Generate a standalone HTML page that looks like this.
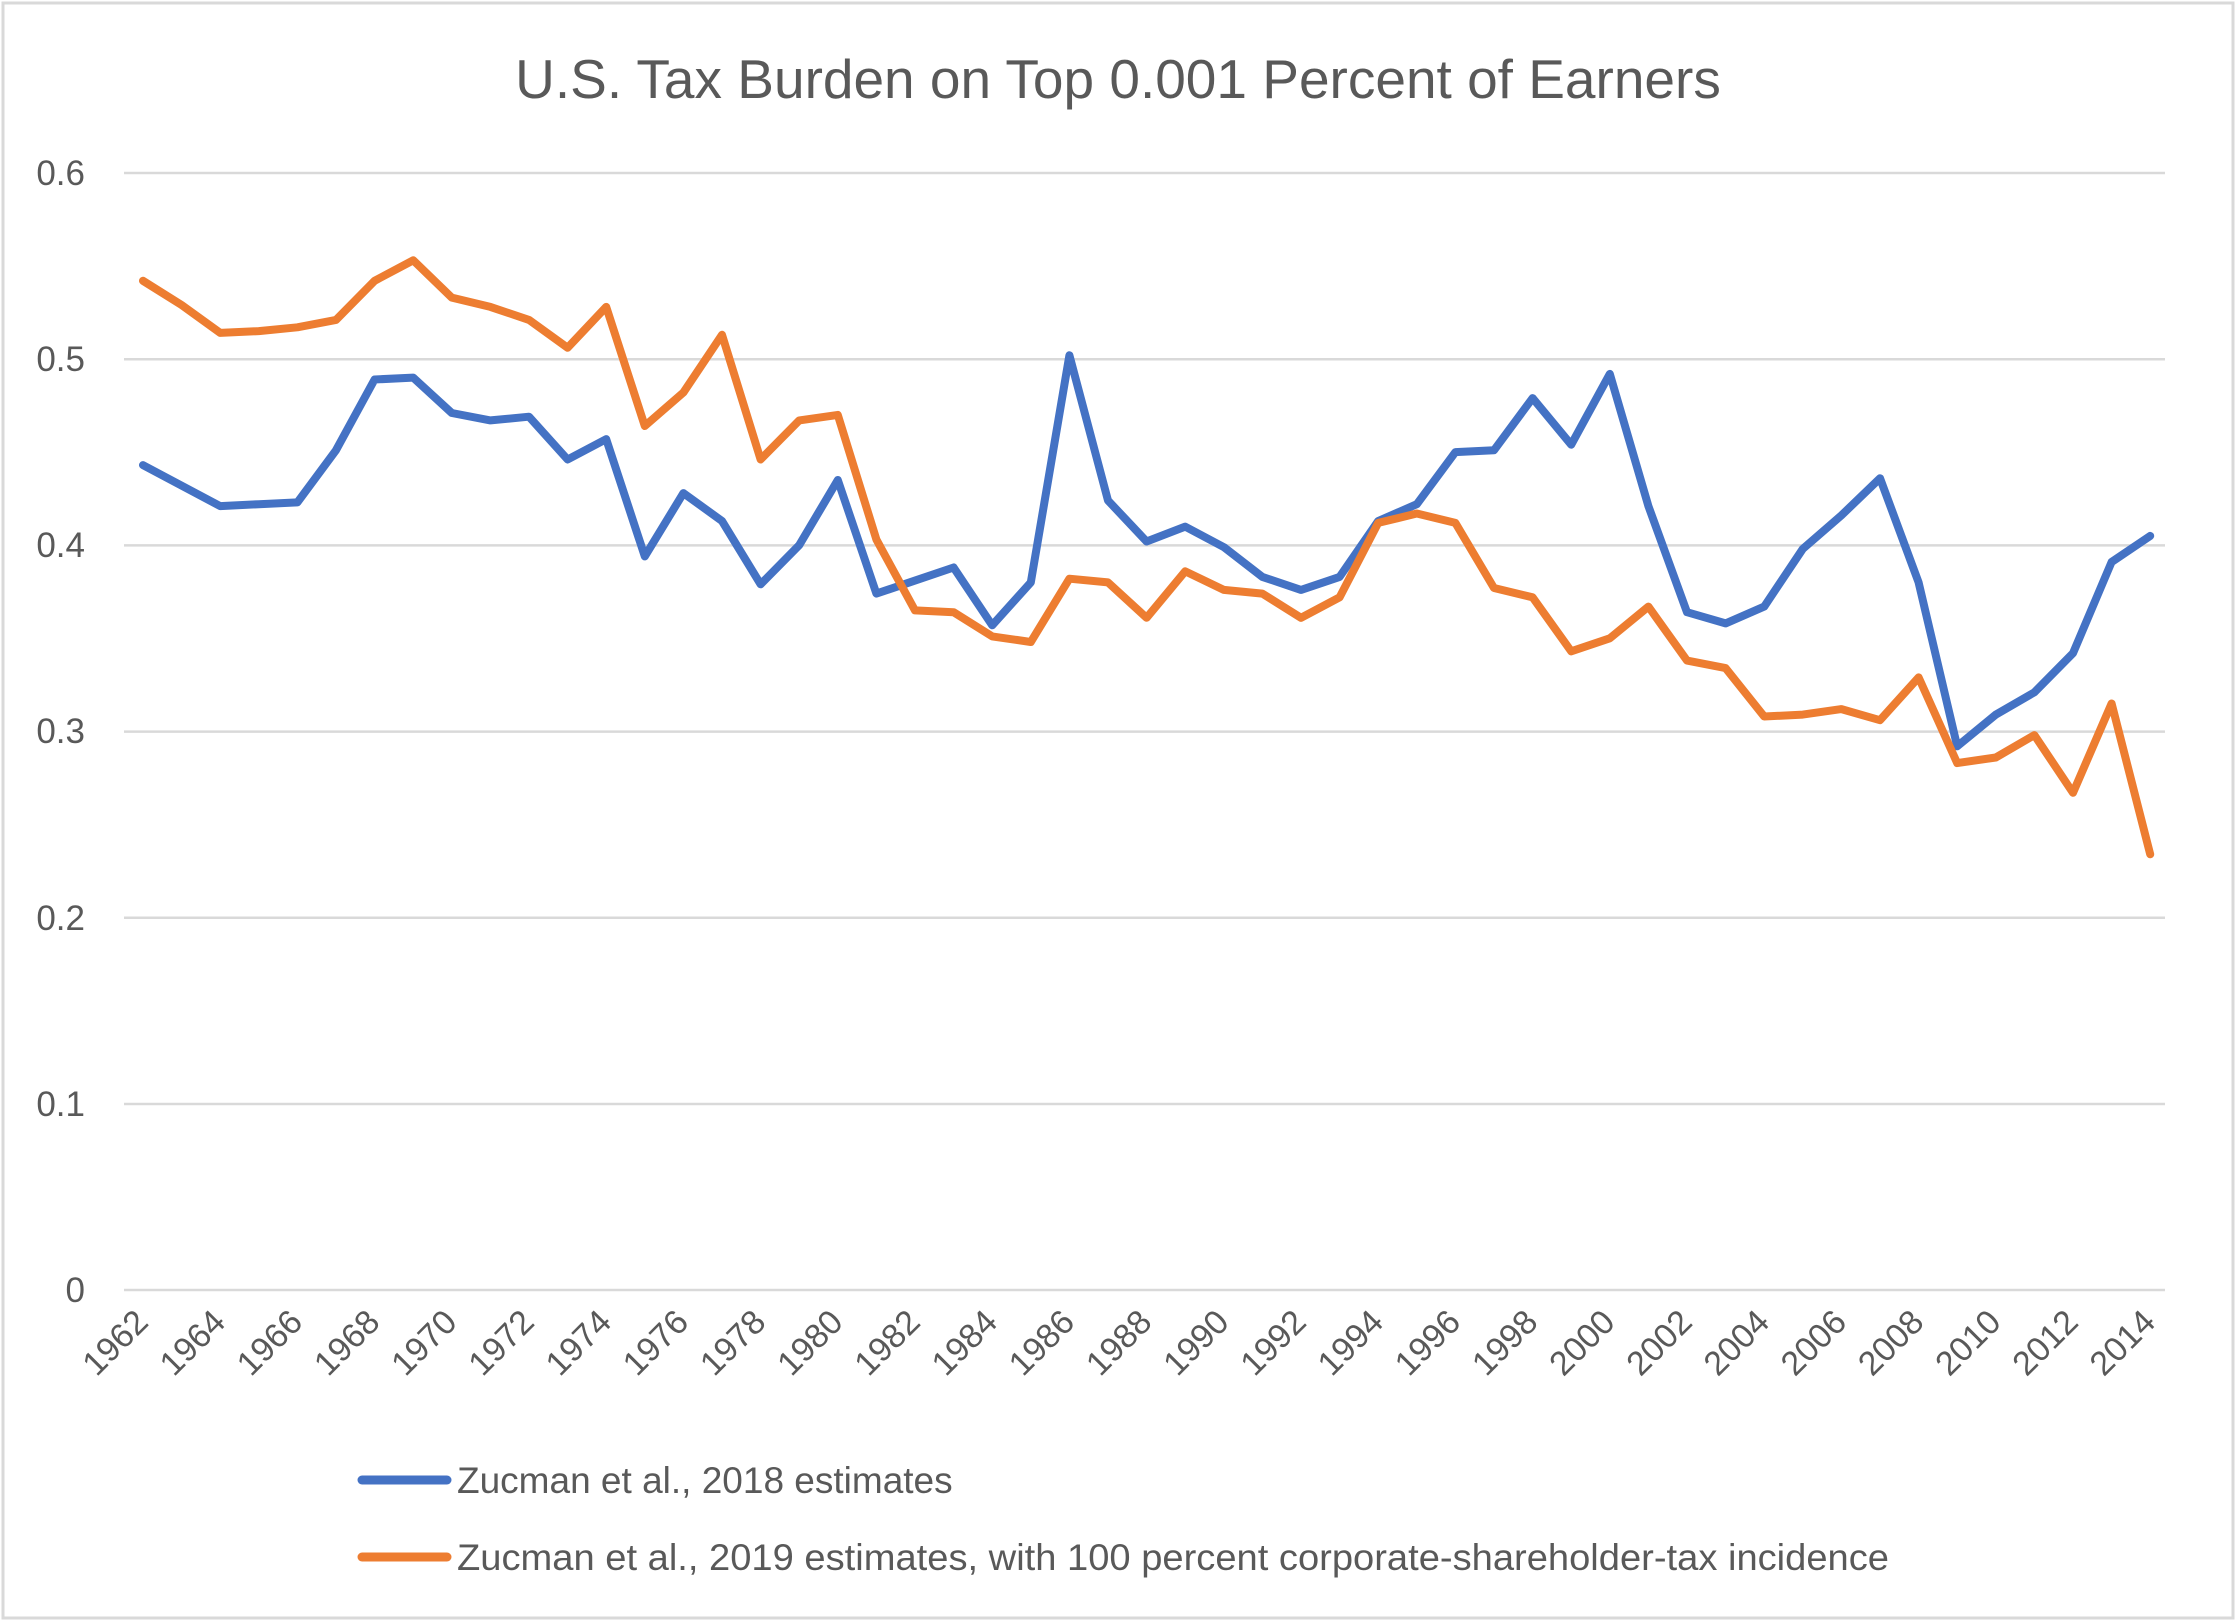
<!DOCTYPE html>
<html><head><meta charset="utf-8"><style>
html,body{margin:0;padding:0;background:#fff}
svg{display:block}
text{font-family:"Liberation Sans",sans-serif;fill:#595959}
</style></head><body>
<svg width="2236" height="1622" viewBox="0 0 2236 1622" xmlns="http://www.w3.org/2000/svg">
<rect x="3" y="3" width="2230" height="1615" fill="#fff" stroke="#d9d9d9" stroke-width="3"/>
<text x="1118" y="98" font-size="55" text-anchor="middle">U.S. Tax Burden on Top 0.001 Percent of Earners</text>
<g stroke="#d9d9d9" stroke-width="2.5">
<line x1="124" x2="2165" y1="173" y2="173"/>
<line x1="124" x2="2165" y1="359.2" y2="359.2"/>
<line x1="124" x2="2165" y1="545.4" y2="545.4"/>
<line x1="124" x2="2165" y1="731.6" y2="731.6"/>
<line x1="124" x2="2165" y1="917.8" y2="917.8"/>
<line x1="124" x2="2165" y1="1104" y2="1104"/>
<line x1="124" x2="2165" y1="1290" y2="1290"/>
</g>
<g font-size="35" text-anchor="end">
<text x="85" y="185">0.6</text>
<text x="85" y="371">0.5</text>
<text x="85" y="557">0.4</text>
<text x="85" y="743">0.3</text>
<text x="85" y="930">0.2</text>
<text x="85" y="1116">0.1</text>
<text x="85" y="1302">0</text>
</g>
<g font-size="34" text-anchor="end">
<text transform="translate(150,1324) rotate(-45)">1962</text>
<text transform="translate(227.2,1324) rotate(-45)">1964</text>
<text transform="translate(304.4,1324) rotate(-45)">1966</text>
<text transform="translate(381.6,1324) rotate(-45)">1968</text>
<text transform="translate(458.8,1324) rotate(-45)">1970</text>
<text transform="translate(536,1324) rotate(-45)">1972</text>
<text transform="translate(613.2,1324) rotate(-45)">1974</text>
<text transform="translate(690.4,1324) rotate(-45)">1976</text>
<text transform="translate(767.6,1324) rotate(-45)">1978</text>
<text transform="translate(844.8,1324) rotate(-45)">1980</text>
<text transform="translate(922,1324) rotate(-45)">1982</text>
<text transform="translate(999.2,1324) rotate(-45)">1984</text>
<text transform="translate(1076.4,1324) rotate(-45)">1986</text>
<text transform="translate(1153.6,1324) rotate(-45)">1988</text>
<text transform="translate(1230.8,1324) rotate(-45)">1990</text>
<text transform="translate(1308,1324) rotate(-45)">1992</text>
<text transform="translate(1385.2,1324) rotate(-45)">1994</text>
<text transform="translate(1462.4,1324) rotate(-45)">1996</text>
<text transform="translate(1539.6,1324) rotate(-45)">1998</text>
<text transform="translate(1616.8,1324) rotate(-45)">2000</text>
<text transform="translate(1694,1324) rotate(-45)">2002</text>
<text transform="translate(1771.2,1324) rotate(-45)">2004</text>
<text transform="translate(1848.4,1324) rotate(-45)">2006</text>
<text transform="translate(1925.6,1324) rotate(-45)">2008</text>
<text transform="translate(2002.8,1324) rotate(-45)">2010</text>
<text transform="translate(2080,1324) rotate(-45)">2012</text>
<text transform="translate(2157.2,1324) rotate(-45)">2014</text>
</g>
<polyline id="blue" fill="none" stroke="#4472c4" stroke-width="8" stroke-linejoin="round" stroke-linecap="round"/>
<polyline id="orange" fill="none" stroke="#ed7d31" stroke-width="8" stroke-linejoin="round" stroke-linecap="round"/>
<line x1="362" y1="1480" x2="447" y2="1480" stroke="#4472c4" stroke-width="9" stroke-linecap="round"/>
<text x="457" y="1493" font-size="37">Zucman et al., 2018 estimates</text>
<line x1="362" y1="1557" x2="447" y2="1557" stroke="#ed7d31" stroke-width="9" stroke-linecap="round"/>
<text x="457" y="1570" font-size="37" textLength="1432" lengthAdjust="spacingAndGlyphs">Zucman et al., 2019 estimates, with 100 percent corporate-shareholder-tax incidence</text>
</svg>
<script>
var b=[0.443,0.432,0.421,0.422,0.423,0.451,0.489,0.490,0.471,0.467,0.469,0.446,0.457,0.394,0.428,0.413,0.379,0.400,0.435,0.374,0.381,0.388,0.357,0.380,0.502,0.424,0.402,0.410,0.399,0.383,0.376,0.383,0.413,0.422,0.450,0.451,0.479,0.454,0.492,0.421,0.364,0.358,0.367,0.398,0.416,0.436,0.380,0.292,0.309,0.321,0.342,0.391,0.405];
var o=[0.542,0.529,0.514,0.515,0.517,0.521,0.542,0.553,0.533,0.528,0.521,0.506,0.528,0.464,0.482,0.513,0.446,0.467,0.470,0.403,0.365,0.364,0.351,0.348,0.382,0.380,0.361,0.386,0.376,0.374,0.361,0.372,0.412,0.417,0.412,0.377,0.372,0.343,0.350,0.367,0.338,0.334,0.308,0.309,0.312,0.306,0.329,0.283,0.286,0.298,0.267,0.315,0.234];
function pts(a){return a.map(function(v,i){return (143+i*38.6).toFixed(1)+","+(1290-v*1862).toFixed(1)}).join(" ")}
document.getElementById("blue").setAttribute("points",pts(b));
document.getElementById("orange").setAttribute("points",pts(o));
</script>
</body></html>
